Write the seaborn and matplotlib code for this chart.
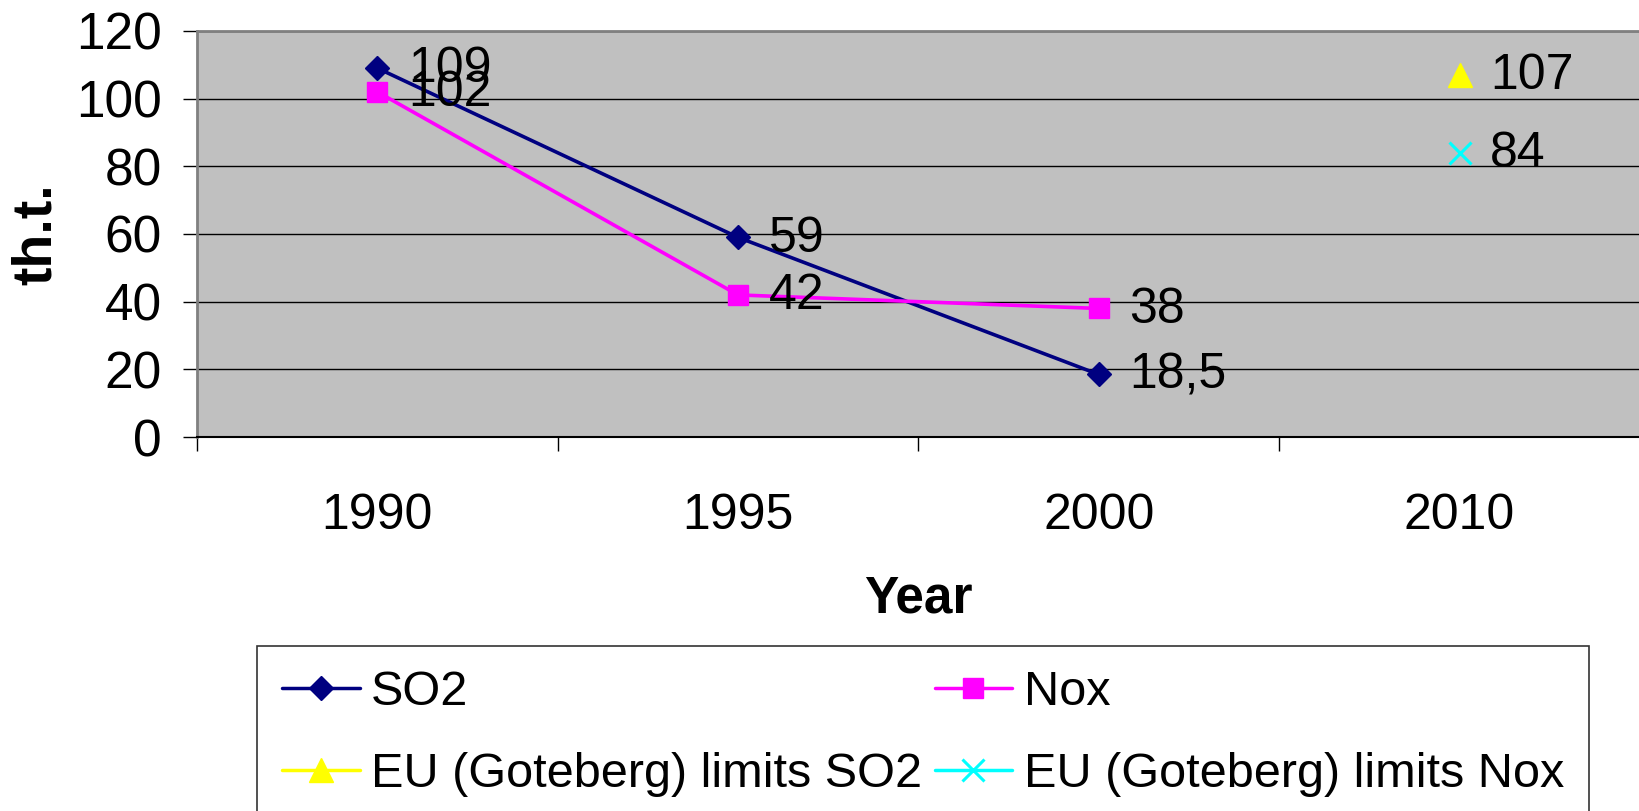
import numpy as np
import pandas as pd
import matplotlib
matplotlib.use("Agg")
import matplotlib.pyplot as plt
from matplotlib.lines import Line2D
import seaborn as sns

years = ["1990", "1995", "2000", "2010"]
so2 = [109, 59, 18.5, np.nan]
nox = [102, 42, 38, np.nan]
eu_so2 = [np.nan, np.nan, np.nan, 107]
eu_nox = [np.nan, np.nan, np.nan, 84]
series_names = ["SO2", "Nox", "EU (Goteberg) limits SO2", "EU (Goteberg) limits Nox"]
colors = ["#000080", "#FF00FF", "#FFFF00", "#00FFFF"]
markers = ["D", "s", "^", "x"]
msizes = [12, 15, 17, 16]

sns.set_style("white")
plt.rcParams['font.family'] = ['Liberation Sans', 'DejaVu Sans']
plt.rcParams['text.color'] = 'black'
plt.rcParams['axes.labelcolor'] = 'black'
plt.rcParams['xtick.color'] = 'black'
plt.rcParams['ytick.color'] = 'black'

fig = plt.figure(figsize=(16.4, 8.11), dpi=100)
ax = fig.add_axes([0.120, 0.461, 0.880, 0.501])
ax.set_facecolor("#C0C0C0")

pos = np.arange(len(years))
all_series = [so2, nox, eu_so2, eu_nox]
for vals, name, c, m, ms in zip(all_series, series_names, colors, markers, msizes):
    df = pd.DataFrame({"x": pos, "y": vals}).dropna()
    sns.lineplot(data=df, x="x", y="y", ax=ax, color=c, marker=m, markersize=ms,
                 markeredgecolor=c, markerfacecolor=c, markeredgewidth=2.2 if m == "x" else 1,
                 linewidth=2.6, legend=False)
    for xi, yi in zip(df["x"], df["y"]):
        txt = ("%g" % yi).replace(".", ",")
        ax.annotate(txt, (xi, yi), xytext=(22, -1), textcoords="offset points",
                    ha="left", va="center", fontsize=36, color="black")

ax.set_xlim(-0.5, 3.5)
ax.set_ylim(0, 120)
ax.set_yticks(np.arange(0, 121, 20))
ax.set_xticks(pos)
ax.set_xticklabels(years)
ax.set_xticks(np.arange(-0.5, 3.6, 1.0), minor=True)
ax.tick_params(axis="x", which="major", length=0, pad=40, labelsize=36)
ax.tick_params(axis="x", which="minor", length=10, width=1, direction="out", color="black", bottom=True)
ax.tick_params(axis="y", which="major", length=10, width=1, direction="out", color="black",
               pad=15, labelsize=37, left=True)
ax.yaxis.grid(True, color="black", linewidth=1)
ax.xaxis.grid(False)
ax.set_axisbelow(True)

for s in ["left", "top"]:
    ax.spines[s].set_color("#808080")
    ax.spines[s].set_linewidth(2)
ax.spines["right"].set_visible(False)
ax.spines["bottom"].set_color("black")
ax.spines["bottom"].set_linewidth(1.5)

ax.set_xlabel("Year", fontsize=37, fontweight="bold", labelpad=26)
ax.set_ylabel("th.t.", fontsize=40, fontweight="bold", labelpad=10)

handles = [Line2D([0], [0], color=c, marker=m, markersize=ms, markerfacecolor=c,
                  markeredgecolor=c, markeredgewidth=2.2 if m == "x" else 1, linewidth=2.5)
           for c, m, ms in zip(colors, markers, msizes)]
order = [0, 2, 1, 3]
leg = fig.legend([handles[i] for i in order], [series_names[i] for i in order],
                 loc="upper left", bbox_to_anchor=(0.157, 0.2035),
                 ncol=2, fontsize=35, frameon=True, fancybox=False, edgecolor="black",
                 handlelength=1.6, handletextpad=0.24, borderpad=0.5, labelspacing=0.75,
                 columnspacing=0.25, borderaxespad=0)
leg.get_frame().set_linewidth(1.2)

fig.savefig("out.png", dpi=100)
